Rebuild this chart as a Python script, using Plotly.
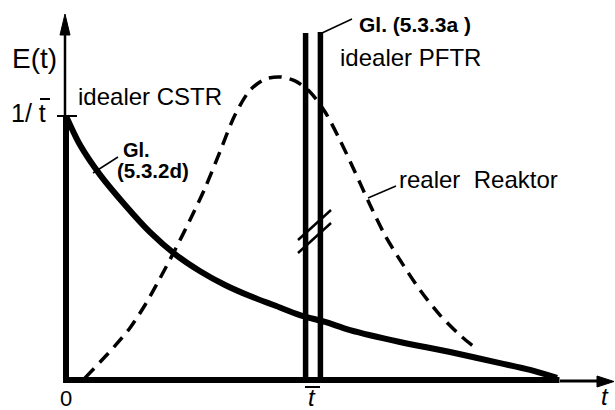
import plotly.graph_objects as go

# Residence-time distributions, t in units of the mean residence time t̄,
# E(t) in units of 1/t̄.

# ideal CSTR: E jumps to 1/t̄ at t = 0 and then decays
CSTR_T = [0.0, 0.057, 0.138, 0.239, 0.340, 0.441, 0.543, 0.644, 0.745, 0.846,
          0.947, 1.049, 1.150, 1.352, 1.555, 1.757, 1.879, 1.988]
CSTR_E = [1.0, 0.890, 0.777, 0.663, 0.560, 0.477, 0.412, 0.360, 0.318, 0.282,
          0.246, 0.220, 0.189, 0.144, 0.106, 0.064, 0.038, 0.008]

# real reactor: bell-shaped response
REAL_T = [0.077, 0.138, 0.198, 0.259, 0.320, 0.381, 0.441, 0.502, 0.563, 0.623,
          0.684, 0.745, 0.806, 0.866, 0.927, 0.988, 1.049, 1.109, 1.170, 1.231,
          1.291, 1.352, 1.433, 1.514, 1.595, 1.668]
REAL_E = [0.008, 0.068, 0.129, 0.197, 0.284, 0.386, 0.492, 0.606, 0.727, 0.864,
          1.004, 1.098, 1.140, 1.148, 1.133, 1.091, 1.015, 0.909, 0.788, 0.663,
          0.549, 0.455, 0.341, 0.246, 0.170, 0.114]

# ideal PFTR: Dirac pulse at t = t̄ (drawn as a broken double line)
T_BAR = 1.0
PFTR_TOP = 1.314

W, H = 615, 410
X0_PX, Y0_PX = 66, 380          # pixel position of the origin
UX, UY = 247, 264               # pixels per unit on each axis
X_RANGE = [-X0_PX / UX, (W - X0_PX) / UX]
Y_RANGE = [-(H - Y0_PX) / UY, Y0_PX / UY]

FONT = "Liberation Sans, Arial, sans-serif"
BLACK = "#000000"


def px(x):
    return x / W


def py(y):
    return 1 - y / H


fig = go.Figure()

# CSTR: jump at t = 0 and decaying branch
fig.add_trace(go.Scatter(x=[CSTR_T[0], CSTR_T[0]], y=[0, CSTR_E[0]], mode="lines",
                         line=dict(color=BLACK, width=6), hoverinfo="skip"))
fig.add_trace(go.Scatter(x=CSTR_T, y=CSTR_E, mode="lines",
                         line=dict(color=BLACK, width=6, shape="spline", smoothing=0.8),
                         hoverinfo="skip"))

# real reactor (dashed)
fig.add_trace(go.Scatter(x=REAL_T, y=REAL_E, mode="lines",
                         line=dict(color=BLACK, width=3.5, dash="13px,8px",
                                   shape="spline", smoothing=0.8),
                         hoverinfo="skip"))

# PFTR double line at t̄
HALF_GAP = 0.030
for dx in (-HALF_GAP, HALF_GAP):
    fig.add_trace(go.Scatter(x=[T_BAR + dx, T_BAR + dx], y=[0, PFTR_TOP + (0.004 if dx > 0 else 0)],
                             mode="lines", line=dict(color=BLACK, width=5.5),
                             hoverinfo="skip"))

shapes = []
# x axis: heavy part under the curves, thinner tail with arrowhead
shapes.append(dict(type="line", xref="x", yref="y", x0=-0.012, x1=CSTR_T[-1] + 0.01, y0=0, y1=0,
                   line=dict(color=BLACK, width=6)))
shapes.append(dict(type="line", xref="paper", yref="paper", x0=px(560), x1=px(600),
                   y0=py(381), y1=py(381), line=dict(color=BLACK, width=3)))
shapes.append(dict(type="path", xref="paper", yref="paper",
                   path=f"M {px(597)},{py(376)} L {px(614)},{py(381.5)} L {px(597)},{py(387)} Z",
                   fillcolor=BLACK, line=dict(color=BLACK, width=1)))
# y axis: thin line above 1/t̄ with arrowhead
shapes.append(dict(type="line", xref="paper", yref="paper", x0=px(65), x1=px(65),
                   y0=py(118), y1=py(30), line=dict(color=BLACK, width=2.5)))
shapes.append(dict(type="path", xref="paper", yref="paper",
                   path=f"M {px(60)},{py(35)} L {px(65)},{py(14)} L {px(70)},{py(35)} Z",
                   fillcolor=BLACK, line=dict(color=BLACK, width=1)))
# tick at 1/t̄
shapes.append(dict(type="line", xref="paper", yref="paper", x0=px(57), x1=px(77),
                   y0=py(116), y1=py(116), line=dict(color=BLACK, width=2)))
# break marks on the PFTR pulse
for y_a, y_b in ((240, 210), (253, 223)):
    shapes.append(dict(type="line", xref="paper", yref="paper", x0=px(298), x1=px(331),
                       y0=py(y_a), y1=py(y_b), line=dict(color=BLACK, width=2.5)))
# leader lines
for (xa, ya, xb, yb) in ((93, 173, 118, 157), (322, 33, 352, 19), (368, 198, 396, 186)):
    shapes.append(dict(type="line", xref="paper", yref="paper", x0=px(xa), x1=px(xb),
                       y0=py(ya), y1=py(yb), line=dict(color=BLACK, width=1.5)))
# overbars of t̄
for (xa, xb, y) in ((40, 50, 99), (305, 320, 387)):
    shapes.append(dict(type="line", xref="paper", yref="paper", x0=px(xa), x1=px(xb),
                       y0=py(y), y1=py(y), line=dict(color=BLACK, width=2)))

annotations = []


def label(text, x, y, size, bold=False, italic=False, xanchor="center"):
    if bold:
        text = f"<b>{text}</b>"
    if italic:
        text = f"<i>{text}</i>"
    annotations.append(dict(text=text, x=px(x), y=py(y), xref="paper", yref="paper",
                            xanchor=xanchor, yanchor="middle", showarrow=False,
                            font=dict(family=FONT, size=size, color=BLACK)))


label("E(t)", 34, 58, 28)
label("1/ t", 28, 113, 25)
label("idealer CSTR", 150, 96, 24)
label("idealer PFTR", 410, 57, 24)
label("realer  Reaktor", 479, 180, 24)
label("Gl. (5.3.3a )", 357, 24, 21, bold=True, xanchor="left")
label("Gl.", 121, 150, 20, bold=True, xanchor="left")
label("(5.3.2d)", 115, 171, 20.5, bold=True, xanchor="left")
label("0", 66, 398, 22)
label("t", 312, 397, 24, italic=True)
label("t", 605, 396, 24, italic=True)

fig.update_layout(
    width=W, height=H,
    margin=dict(l=0, r=0, t=0, b=0),
    paper_bgcolor="white", plot_bgcolor="white",
    showlegend=False,
    xaxis=dict(range=X_RANGE, visible=False, fixedrange=True),
    yaxis=dict(range=Y_RANGE, visible=False, fixedrange=True),
    shapes=shapes,
    annotations=annotations,
)

fig.write_html("out.html")
